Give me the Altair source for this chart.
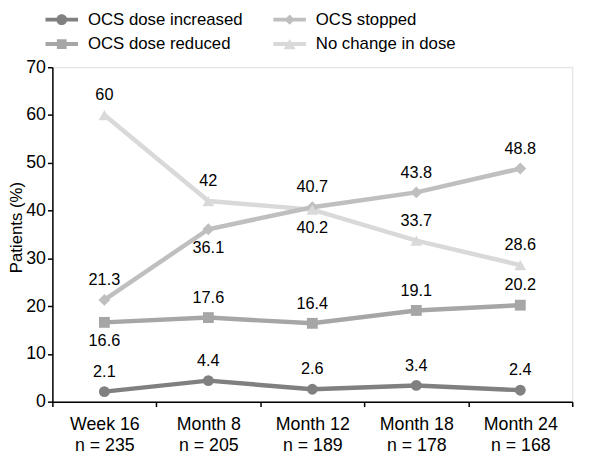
import altair as alt
import pandas as pd

# ---- data ----
categories = ["Week 16", "Month 8", "Month 12", "Month 18", "Month 24"]
n_patients = [235, 205, 189, 178, 168]
series_names = ["OCS dose increased", "OCS dose reduced", "OCS stopped", "No change in dose"]
increased = [2.1, 4.4, 2.6, 3.4, 2.4]
reduced = [16.6, 17.6, 16.4, 19.1, 20.2]
stopped = [21.3, 36.1, 40.7, 43.8, 48.8]
no_change = [60, 42, 40.2, 33.7, 28.6]
# value labels drawn below (True) or above (False) their point
below_increased = [False, False, False, False, False]
below_reduced = [True, False, False, False, False]
below_stopped = [False, True, False, False, False]
below_no_change = [False, False, True, False, False]

colors = ["#808080", "#a6a6a6", "#bfbfbf", "#d9d9d9"]
shapes = ["circle", "square", "diamond", "triangle-up"]
sizes = [121, 121, 144, 144]

rows = []
for name, vals, below in zip(
    series_names,
    [increased, reduced, stopped, no_change],
    [below_increased, below_reduced, below_stopped, below_no_change],
):
    for c, n, v, b in zip(categories, n_patients, vals, below):
        rows.append({"series": name, "cat": f"{c}|n = {n}", "value": v, "below": b})
df = pd.DataFrame(rows)
cat_order = [f"{c}|n = {n}" for c, n in zip(categories, n_patients)]

FONT = "Liberation Sans"

x_enc = alt.X(
    "cat:N",
    sort=cat_order,
    scale=alt.Scale(type="band", domain=cat_order, paddingInner=0, paddingOuter=0),
    axis=alt.Axis(
        title=None,
        labelExpr="split(datum.label, '|')",
        labelAngle=0,
        tickBand="extent",
        labelFontSize=18,
        labelLineHeight=22,
        labelPadding=9,
        tickSize=5,
        domainColor="black",
        tickColor="black",
        labelColor="black",
        domainWidth=1.5,
        tickWidth=1.5,
        labelFont=FONT,
    ),
)
y_enc = alt.Y(
    "value:Q",
    scale=alt.Scale(domain=[0, 70], nice=False),
    axis=alt.Axis(
        values=list(range(0, 71, 10)),
        title="Patients (%)",
        grid=False,
        titleFontSize=17,
        titleFontWeight="normal",
        titleFont=FONT,
        titleColor="black",
        titleBaseline="alphabetic",
        titleAlign="center",
        titleAngle=270,
        titleX=-31,
        titleY=162,
        labelFontSize=18,
        labelFont=FONT,
        labelColor="black",
        labelPadding=2,
        tickSize=5,
        domainColor="black",
        tickColor="black",
        domainWidth=1.5,
        tickWidth=1.5,
    ),
)

base = alt.Chart(df)

# draw order: lightest series first so darker ones sit on top
layers = []
for name, col in zip(reversed(series_names), reversed(colors)):
    layers.append(
        base.transform_filter(alt.datum.series == name)
        .mark_line(strokeWidth=4.5, color=col)
        .encode(x=x_enc, y=y_enc)
    )
for name, col, shp, sz in zip(series_names, colors, shapes, sizes):
    layers.append(
        base.transform_filter(alt.datum.series == name)
        .mark_point(shape=shp, filled=True, size=sz, opacity=1, color=col)
        .encode(x=x_enc, y=y_enc)
    )

# legend symbols: line segment + marker, as custom paths
seg = "M-3,-0.36H3V0.36H-3Z"
legend_paths = [
    seg + "M-1,0A1 1 0 1 1 1,0A1 1 0 1 1 -1,0Z",
    seg + "M-0.9,-0.9H0.9V0.9H-0.9Z",
    seg + "M0,-0.95L0.95,0L0,0.95L-0.95,0Z",
    seg + "M0,-0.95L1.1,0.95L-1.1,0.95Z",
]
legend_def = alt.Legend(
    title=None,
    orient="none",
    legendX=1,
    legendY=-57,
    columns=2,
    columnPadding=31,
    rowPadding=7,
    symbolSize=121,
    symbolOpacity=1,
    symbolStrokeWidth=0,
    labelOffset=18,
    labelFontSize=17,
    labelFont=FONT,
    labelColor="black",
    labelLimit=300,
    padding=0,
)
legend_layer = base.mark_point(filled=True, opacity=0).encode(
    x=x_enc,
    y=y_enc,
    color=alt.Color("series:N", scale=alt.Scale(domain=series_names, range=colors), legend=legend_def),
    shape=alt.Shape(
        "series:N",
        scale=alt.Scale(domain=series_names, range=legend_paths),
        legend=legend_def,
    ),
)
layers.append(legend_layer)

text_above = base.transform_filter(alt.datum.below == False).mark_text(
    dy=-20, fontSize=16.5, font=FONT, color="black", baseline="middle"
).encode(x=x_enc, y=y_enc, text=alt.Text("value:Q"))
text_below = base.transform_filter(alt.datum.below == True).mark_text(
    dy=19, fontSize=16.5, font=FONT, color="black", baseline="middle"
).encode(x=x_enc, y=y_enc, text=alt.Text("value:Q"))
layers += [text_above, text_below]

chart = (
    alt.layer(*layers)
    .properties(
        width=527,
        height=339,
        autosize=alt.AutoSizeParams(type="none"),
        padding={"left": 45, "top": 57, "right": 20, "bottom": 52},
    )
    .configure_view(strokeWidth=0)
    .configure(font=FONT)
)

chart.save("out.html", embed_options={"renderer": "svg", "actions": False})
